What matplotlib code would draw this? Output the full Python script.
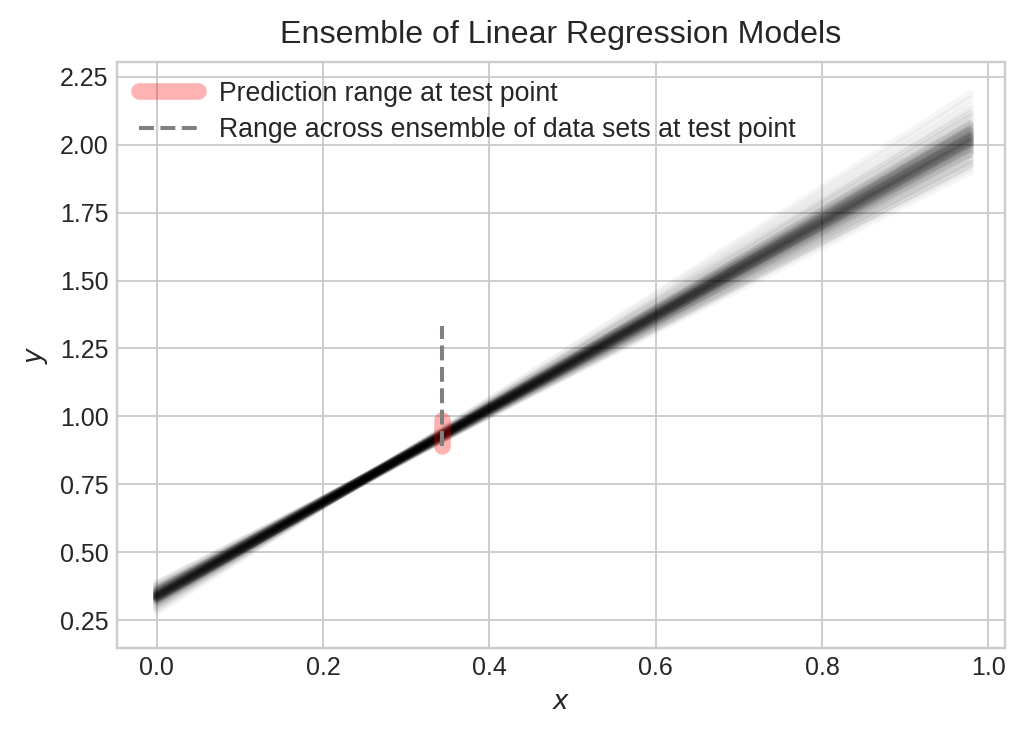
import numpy as np
import matplotlib.pyplot as plt

# fitted lines from the ensemble of data sets: y = intercept + slope * x
slopes = [1.72, 1.69, 1.75, 1.66, 1.78, 1.71, 1.74, 1.63, 1.81, 1.70,
          1.73, 1.68, 1.76, 1.60, 1.84, 1.72, 1.67, 1.77, 1.71, 1.74,
          1.65, 1.79, 1.69, 1.73, 1.58, 1.87, 1.70, 1.75, 1.62, 1.82,
          1.72, 1.68, 1.76, 1.71, 1.73, 1.64, 1.80, 1.70, 1.74, 1.55,
          1.95, 1.72, 1.69, 1.75, 1.66, 1.78, 1.71, 1.73, 1.61, 1.83,
          1.72, 1.70, 1.74, 1.67, 1.77, 1.69, 1.75, 1.64, 1.80, 1.71,
          1.73, 1.68, 1.76, 1.62, 1.85, 1.72, 1.66, 1.78, 1.70, 1.74,
          1.59, 1.89, 1.71, 1.73, 1.65, 1.79, 1.68, 1.76, 1.57, 1.92]
intercepts = [0.340, 0.350, 0.330, 0.360, 0.320, 0.345, 0.330, 0.370, 0.310, 0.350,
              0.345, 0.340, 0.335, 0.365, 0.315, 0.330, 0.360, 0.330, 0.335, 0.345,
              0.350, 0.325, 0.355, 0.335, 0.380, 0.300, 0.340, 0.340, 0.360, 0.320,
              0.345, 0.355, 0.325, 0.340, 0.340, 0.365, 0.315, 0.350, 0.330, 0.385,
              0.280, 0.335, 0.340, 0.335, 0.350, 0.330, 0.350, 0.330, 0.370, 0.310,
              0.345, 0.340, 0.335, 0.355, 0.325, 0.350, 0.330, 0.360, 0.320, 0.335,
              0.340, 0.350, 0.330, 0.365, 0.305, 0.340, 0.355, 0.325, 0.345, 0.335,
              0.375, 0.295, 0.340, 0.335, 0.360, 0.320, 0.345, 0.330, 0.380, 0.290]
x_range = [0.0, 0.978]

x_test = 0.343
pred_range = [0.891, 0.987]
ensemble_range = [0.891, 1.333]

plt.style.use('seaborn-v0_8-whitegrid')
fig, ax = plt.subplots(figsize=(1028 / 171, 736 / 171), dpi=171)

xs = np.array(x_range)
for a, b in zip(intercepts, slopes):
    ax.plot(xs, a + b * xs, color='black', alpha=0.035, lw=3.3)

ax.plot([x_test, x_test], pred_range, color='red', alpha=0.3, lw=7,
        solid_capstyle='round', label='Prediction range at test point')
ax.plot([x_test, x_test], ensemble_range, color='gray', ls='--', lw=1.7,
        label='Range across ensemble of data sets at test point')

ax.set_xlim(-0.048, 1.02)
ax.set_ylim(0.147, 2.305)
ax.set_xlabel('$x$', fontsize=11)
ax.set_ylabel('$y$', fontsize=11)
ax.set_title('Ensemble of Linear Regression Models', fontsize=13.5, pad=8)
ax.tick_params(labelsize=10.5)
ax.legend(loc='upper left', frameon=False, fontsize=11.2, labelspacing=0.4,
          borderaxespad=0.3, handlelength=2.2, bbox_to_anchor=(0.004, 1.0))

plt.subplots_adjust(left=0.1138, right=0.9776, top=0.9158, bottom=0.1196)
plt.savefig('out.png')
